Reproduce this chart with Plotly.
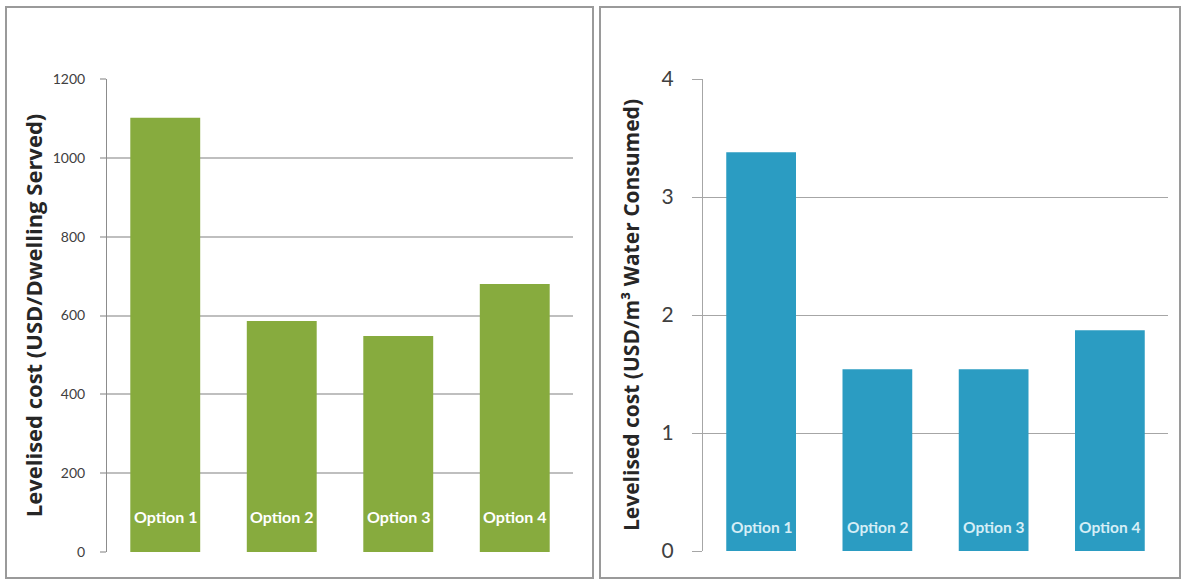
import plotly.graph_objects as go

categories = ["Option 1", "Option 2", "Option 3", "Option 4"]
cost_per_dwelling = [1102, 586, 548, 680]
cost_per_m3 = [3.38, 1.54, 1.54, 1.87]
left_ticks = [0, 200, 400, 600, 800, 1000, 1200]
right_ticks = [0, 1, 2, 3, 4]

W, H = 1182, 579

def px(x):
    return x / W

def py(y):
    return 1 - y / H

fig = go.Figure()
fig.add_trace(go.Bar(x=categories, y=cost_per_dwelling, width=0.6,
                     marker=dict(color="#87AB3E", line=dict(width=0)),
                     xaxis="x", yaxis="y", hoverinfo="skip"))
fig.add_trace(go.Bar(x=categories, y=cost_per_m3, width=0.6,
                     marker=dict(color="#2B9CC2", line=dict(width=0)),
                     xaxis="x2", yaxis="y2", hoverinfo="skip"))

font_main = "Lato, 'Open Sans', sans-serif"
font_title = "'Open Sans', Lato, sans-serif"

annotations = []
for c in categories:
    annotations.append(dict(x=c, y=0, xref="x", yref="y", text="<b>%s</b>" % c,
                            showarrow=False, yanchor="bottom", yshift=24,
                            font=dict(family=font_main, size=16, color="white")))
    annotations.append(dict(x=c, y=0, xref="x2", yref="y2", text="<b>%s</b>" % c,
                            showarrow=False, yanchor="bottom", yshift=13,
                            font=dict(family=font_main, size=15.5, color="#D5EEF6")))

shapes = [
    dict(type="rect", xref="paper", yref="paper", x0=px(6), x1=px(593), y0=py(578), y1=py(7),
         line=dict(color="#9A9A9A", width=2)),
    dict(type="rect", xref="paper", yref="paper", x0=px(600), x1=px(1180), y0=py(578), y1=py(7),
         line=dict(color="#9A9A9A", width=2)),
]

fig.update_layout(
    width=W, height=H,
    autosize=False,
    margin=dict(l=0, r=0, t=0, b=0, pad=0, autoexpand=False),
    paper_bgcolor="white", plot_bgcolor="white",
    showlegend=False,
    bargap=0.4,
    font=dict(family=font_main, color="#404040"),
    xaxis=dict(domain=[px(107), px(573)], showticklabels=False, showgrid=False,
               zeroline=False, showline=False, ticks="", fixedrange=True, automargin=False),
    yaxis=dict(domain=[py(552), py(79)], range=[0, 1200], tickvals=left_ticks,
               automargin=False,
               showgrid=True, gridcolor="#BFBFBF", gridwidth=2,
               showline=True, linecolor="#8C8C8C", linewidth=1,
               ticks="outside", ticklen=6, tickcolor="#BFBFBF", tickwidth=2,
               ticklabelstandoff=12,
               zeroline=False,
               tickfont=dict(size=14, color="#404040"),
               title=dict(text="<b>Levelised cost (USD/Dwelling Served)</b>",
                          font=dict(family=font_title, size=22, color="#262626"), standoff=4)),
    xaxis2=dict(domain=[px(703), px(1168)], showticklabels=False, showgrid=False,
                zeroline=False, showline=False, ticks="", fixedrange=True, anchor="y2",
                automargin=False),
    yaxis2=dict(domain=[py(551), py(79)], range=[0, 4], tickvals=right_ticks,
                anchor="x2", automargin=False,
                showgrid=True, gridcolor="#A6A6A6", gridwidth=1,
                showline=True, linecolor="#A6A6A6", linewidth=1,
                ticks="outside", ticklen=10, tickcolor="#A6A6A6",
                ticklabelstandoff=14,
                zeroline=False,
                tickfont=dict(size=21, color="#404040"),
                title=dict(text="<b>Levelised cost (USD/m³ Water Consumed)</b>",
                           font=dict(family=font_title, size=21, color="#262626"), standoff=16)),
    annotations=annotations,
    shapes=shapes,
)

fig.write_html("out.html")
